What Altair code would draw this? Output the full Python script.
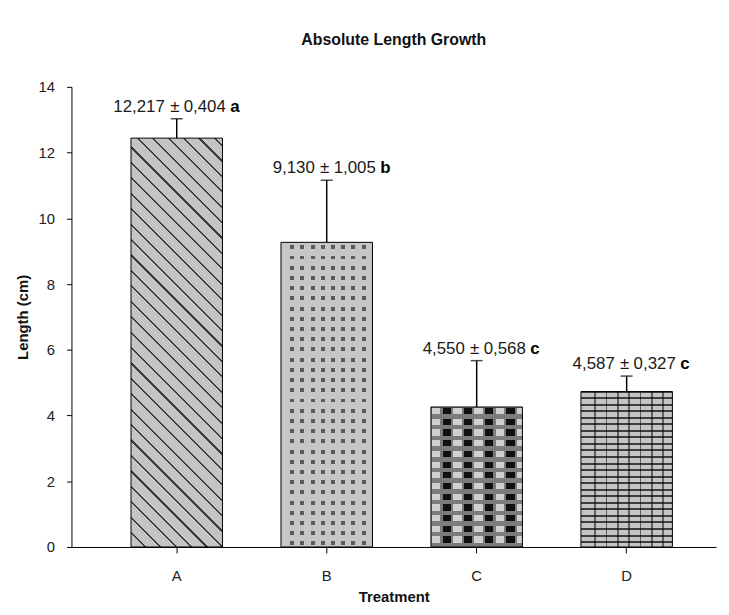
import math
import altair as alt
import pandas as pd

# ---- data ----
treatments = ["A", "B", "C", "D"]
means = [12.44, 9.27, 4.26, 4.73]
uppers = [13.03, 11.16, 5.67, 5.20]
mean_labels = ["12,217", "9,130", "4,550", "4,587"]
sd_labels = ["0,404", "1,005", "0,568", "0,327"]
letters = ["a", "b", "c", "c"]
y_ticks = [0, 2, 4, 6, 8, 10, 12, 14]

df = pd.DataFrame({
    "Treatment": treatments,
    "Mean": means,
    "Upper": uppers,
    "MeanLabel": mean_labels,
    "SdLabel": sd_labels,
    "Letter": letters,
    "PM": ["±"] * len(treatments),
})

FONT = "Liberation Sans"
W_PLOT, H_PLOT = 650, 464
Y_MAX = 14
PAD_IN, PAD_OUT, ALIGN = 0.39, 0.344, 0.577
step = W_PLOT / (len(treatments) - PAD_IN + 2 * PAD_OUT)
BAR_W = step * (1 - PAD_IN)


def bar_h(v):
    return v / Y_MAX * H_PLOT


def stripes(length, segments, start=()):
    """Build gradient stops that repeat the (size_px, colour) segments."""
    stops = []
    pos = 0.0
    seq = list(start)
    i = 0
    while pos < length - 1e-9:
        if seq:
            size, color = seq.pop(0)
        else:
            size, color = segments[i % len(segments)]
            i += 1
        a = round(pos / length, 5)
        b = round(min((pos + size) / length, 1.0), 5)
        stops.append(alt.GradientStop(offset=a, color=color))
        stops.append(alt.GradientStop(offset=b, color=color))
        pos += size
    return stops


def vertical_stripes(segments, start=()):
    return alt.LinearGradient(gradient="linear", x1=0, y1=0, x2=1, y2=0,
                              stops=stripes(BAR_W, segments, start))


def horizontal_stripes(value, segments, start=()):
    return alt.LinearGradient(gradient="linear", x1=0, y1=0, x2=0, y2=1,
                              stops=stripes(bar_h(value), segments, start))


def diagonal_stripes(value, segments):
    W, H = BAR_W, bar_h(value)
    s = W * W + H * H
    dx = (W + H) * W / s
    dy = -(W + H) * H / s
    span = (W + H) / math.sqrt(2)
    return alt.LinearGradient(gradient="linear", x1=0, y1=1, x2=dx, y2=1 + dy,
                              stops=stripes(span, segments))


x_enc = alt.X(
    "Treatment:N",
    sort=treatments,
    scale=alt.Scale(domain=treatments, paddingInner=PAD_IN,
                    paddingOuter=PAD_OUT, align=ALIGN),
    axis=alt.Axis(title="Treatment", labelAngle=0, tickSize=6,
                  tickColor="#000", domainColor="#000", tickWidth=1,
                  labelFont=FONT, labelFontSize=15, labelColor="#222",
                  labelPadding=16, titleFont=FONT, titleFontSize=15,
                  titleFontWeight="bold", titleColor="#111", titlePadding=6),
)
y_enc = alt.Y(
    "Mean:Q",
    scale=alt.Scale(domain=[0, Y_MAX], nice=False),
    axis=alt.Axis(title="Length (cm)", values=y_ticks, grid=False, tickSize=5,
                  tickColor="#000", domainColor="#000", labelFont=FONT,
                  labelFontSize=15, labelColor="#222", labelPadding=12,
                  titleFont=FONT, titleFontSize=15, titleFontWeight="bold",
                  titleColor="#111", titlePadding=8),
)

base = alt.Chart(df).encode(x=x_enc, y=y_enc)


def bar_for(t, fill):
    return base.transform_filter(alt.datum.Treatment == t).mark_bar(
        fill=fill, strokeWidth=0)


LIGHT = "#c4c4c4"
mA, mB, mC, mD = means

layers = [
    # A: diagonal hatch
    bar_for("A", diagonal_stripes(mA, [(9.4, LIGHT), (1.6, "#3a3a3a")])),
    # B: dotted texture (dark columns masked by light rows)
    bar_for("B", vertical_stripes([(6.3, "#c6c6c6"), (4.0, "#5a5a5a")],
                                  start=[(3.0, "#c6c6c6")])),
    bar_for("B", horizontal_stripes(mB, [(4.0, "rgba(0,0,0,0)"),
                                         (6.3, "#c6c6c6")],
                                    start=[(3.0, "#c6c6c6")])),
    # C: black / light check rows separated by grey bands
    bar_for("C", vertical_stripes([(8.5, "#d0d0d0"), (2.2, "#7a7a7a"),
                                   (8.5, "#101010"), (2.2, "#7a7a7a")],
                                  start=[(1.0, "#7a7a7a")])),
    bar_for("C", horizontal_stripes(mC, [(6.2, "rgba(0,0,0,0)"),
                                         (4.6, "#7c7c7c")],
                                    start=[(1.0, "#7c7c7c")])),
    # D: brick-like grid
    bar_for("D", horizontal_stripes(mD, [(4.6, "#c4c4c4"), (2.0, "#3e3e3e")],
                                    start=[(1.0, "#3e3e3e")])),
    bar_for("D", vertical_stripes([(9.6, "rgba(0,0,0,0)"),
                                   (1.8, "rgba(0,0,0,0.5)")],
                                  start=[(4.0, "rgba(0,0,0,0)")])),
    # outlines
    base.mark_bar(fillOpacity=0, stroke="#000", strokeWidth=1),
    # error bars
    base.mark_rule(color="#000", strokeWidth=1.5).encode(
        y="Mean:Q", y2="Upper:Q"),
    base.mark_tick(color="#000", size=12, thickness=1.5).encode(y="Upper:Q"),
    # labels
    base.mark_text(align="right", baseline="alphabetic", dx=-12, dy=-7,
                   font=FONT, fontSize=17, color="#1a1a1a").encode(
        y="Upper:Q", text="MeanLabel:N"),
    base.mark_text(align="center", baseline="alphabetic", dx=-2, dy=-7,
                   font=FONT, fontSize=17, color="#1a1a1a").encode(
        y="Upper:Q", text="PM:N"),
    base.mark_text(align="left", baseline="alphabetic", dx=7, dy=-7,
                   font=FONT, fontSize=17, color="#1a1a1a").encode(
        y="Upper:Q", text="SdLabel:N"),
    base.mark_text(align="left", baseline="alphabetic", dx=54, dy=-7,
                   font=FONT, fontSize=17, fontWeight="bold",
                   color="#000").encode(y="Upper:Q", text="Letter:N"),
]

chart = alt.layer(*layers).properties(
    width=W_PLOT,
    height=H_PLOT,
    padding={"left": 64, "top": 77, "right": 5, "bottom": 58},
    autosize=alt.AutoSizeParams(type="none"),
    title=alt.Title("Absolute Length Growth", font=FONT, fontSize=16,
                    fontWeight="bold", color="#111", offset=32,
                    anchor="middle"),
).configure_view(strokeWidth=0)

chart.save("out.html", embed_options={"renderer": "svg", "actions": False})
